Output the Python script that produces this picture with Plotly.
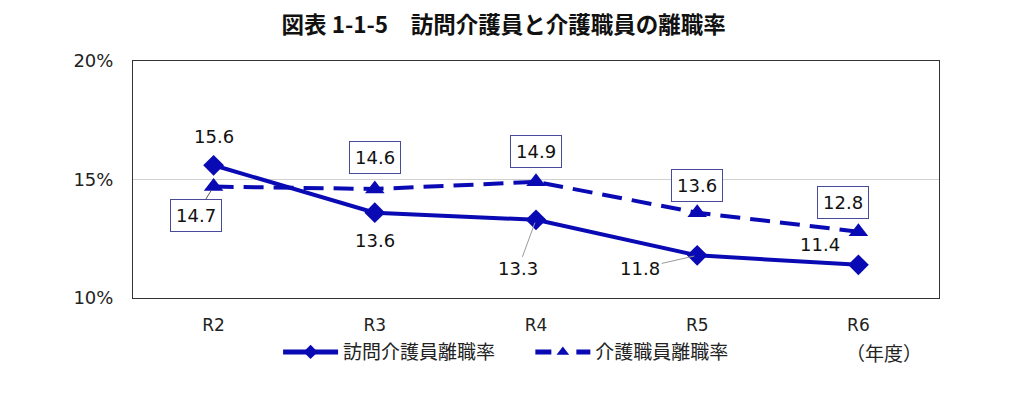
import plotly.graph_objects as go

categories = ["R2", "R3", "R4", "R5", "R6"]
homecare = [15.6, 13.6, 13.3, 11.8, 11.4]
careworker = [14.7, 14.6, 14.9, 13.6, 12.8]
yticks = [10, 15, 20]
yticklabels = ["10%", "15%", "20%"]
names = ["訪問介護員離職率", "介護職員離職率"]

COLOR = "#0a0ab4"
JP = "Noto Sans CJK JP"
NUM = "DejaVu Sans"

fig = go.Figure()
fig.add_trace(go.Scatter(
    x=categories, y=homecare, name=names[0], mode="lines+markers",
    line=dict(color=COLOR, width=4),
    marker=dict(symbol="diamond", size=16, color=COLOR),
    showlegend=False,
))
fig.add_trace(go.Scatter(
    x=categories, y=careworker, name=names[1], mode="lines+markers",
    line=dict(color=COLOR, width=4, dash="20px,10px"),
    marker=dict(symbol="triangle-up", size=17, color=COLOR),
    showlegend=False,
))
# legend entries (smaller legend symbols as in the reference)
fig.add_trace(go.Scatter(
    x=[None], y=[None], name=names[0], mode="lines+markers",
    line=dict(color=COLOR, width=5),
    marker=dict(symbol="diamond", size=11, color=COLOR),
    legend="legend",
))
fig.add_trace(go.Scatter(
    x=[None], y=[None], name=names[1], mode="lines+markers",
    line=dict(color=COLOR, width=5, dash="16px,25px"),
    marker=dict(symbol="triangle-up", size=11, color=COLOR),
    legend="legend2",
))

ann = []
s1 = [
    dict(xs=0, ys=29, arrow=False),
    dict(xs=0, ys=-28, arrow=False),
    dict(ax=-18, ay=49, arrow=True),
    dict(ax=-57, ay=13, arrow=True),
    dict(xs=-38, ys=20, arrow=False),
]
for c, v, o in zip(categories, homecare, s1):
    a = dict(x=c, y=v, text=f"{v:.1f}", font=dict(family=NUM, size=18, color="#111"))
    if o["arrow"]:
        a.update(showarrow=True, ax=o["ax"], ay=o["ay"], arrowhead=0, arrowwidth=1,
                 arrowcolor="#999", standoff=3)
    else:
        a.update(showarrow=False, xshift=o["xs"], yshift=o["ys"])
    ann.append(a)

s2 = [
    dict(ax=-18, ay=29, arrow=True),
    dict(xs=0, ys=31, arrow=False),
    dict(xs=0, ys=30, arrow=False),
    dict(xs=0, ys=27, arrow=False),
    dict(xs=-15, ys=29, arrow=False),
]
for c, v, o in zip(categories, careworker, s2):
    a = dict(x=c, y=v, text=f"{v:.1f}", font=dict(family=NUM, size=18, color="#111"),
             bordercolor="#4a4a9a", borderwidth=1, borderpad=5, bgcolor="white")
    if o["arrow"]:
        a.update(showarrow=True, ax=o["ax"], ay=o["ay"], arrowhead=0, arrowwidth=1,
                 arrowcolor="#555", standoff=5)
    else:
        a.update(showarrow=False, xshift=o["xs"], yshift=o["ys"])
    ann.append(a)

ann.append(dict(xref="paper", yref="paper", x=0.932, y=-0.228, text="（年度）",
                showarrow=False, xanchor="center", yanchor="middle",
                font=dict(family=JP, size=19, color="#222")))

legend_common = dict(orientation="h", yanchor="middle", xanchor="left",
                     font=dict(family=JP, size=19, color="#222"), itemwidth=55,
                     bgcolor="rgba(0,0,0,0)")

fig.update_layout(
    width=1024, height=397,
    margin=dict(l=125, r=93, t=53, b=107),
    paper_bgcolor="white", plot_bgcolor="white",
    title=dict(text="<b>図表 1-1-5　訪問介護員と介護職員の離職率</b>", x=0.484, xanchor="center",
               y=0.957, yanchor="middle", font=dict(family=JP, size=22.5, color="#111")),
    xaxis=dict(type="category", range=[-0.5, 4.5], showline=True, mirror=True,
               linecolor="#333", linewidth=1, ticks="", showgrid=False,
               ticklabelstandoff=12,
               tickfont=dict(family=NUM, size=17, color="#222")),
    yaxis=dict(range=[10, 20], tickvals=yticks, ticktext=yticklabels, showline=True,
               mirror=True, linecolor="#333", linewidth=1, showgrid=True,
               gridcolor="#d0d0d0", gridwidth=1, ticks="", zeroline=False,
               ticklabelstandoff=15,
               tickfont=dict(family=NUM, size=18, color="#222")),
    legend=dict(x=0.18, y=-0.228, **legend_common),
    legend2=dict(x=0.493, y=-0.228, **legend_common),
    annotations=ann,
)

fig.write_html("out.html")
